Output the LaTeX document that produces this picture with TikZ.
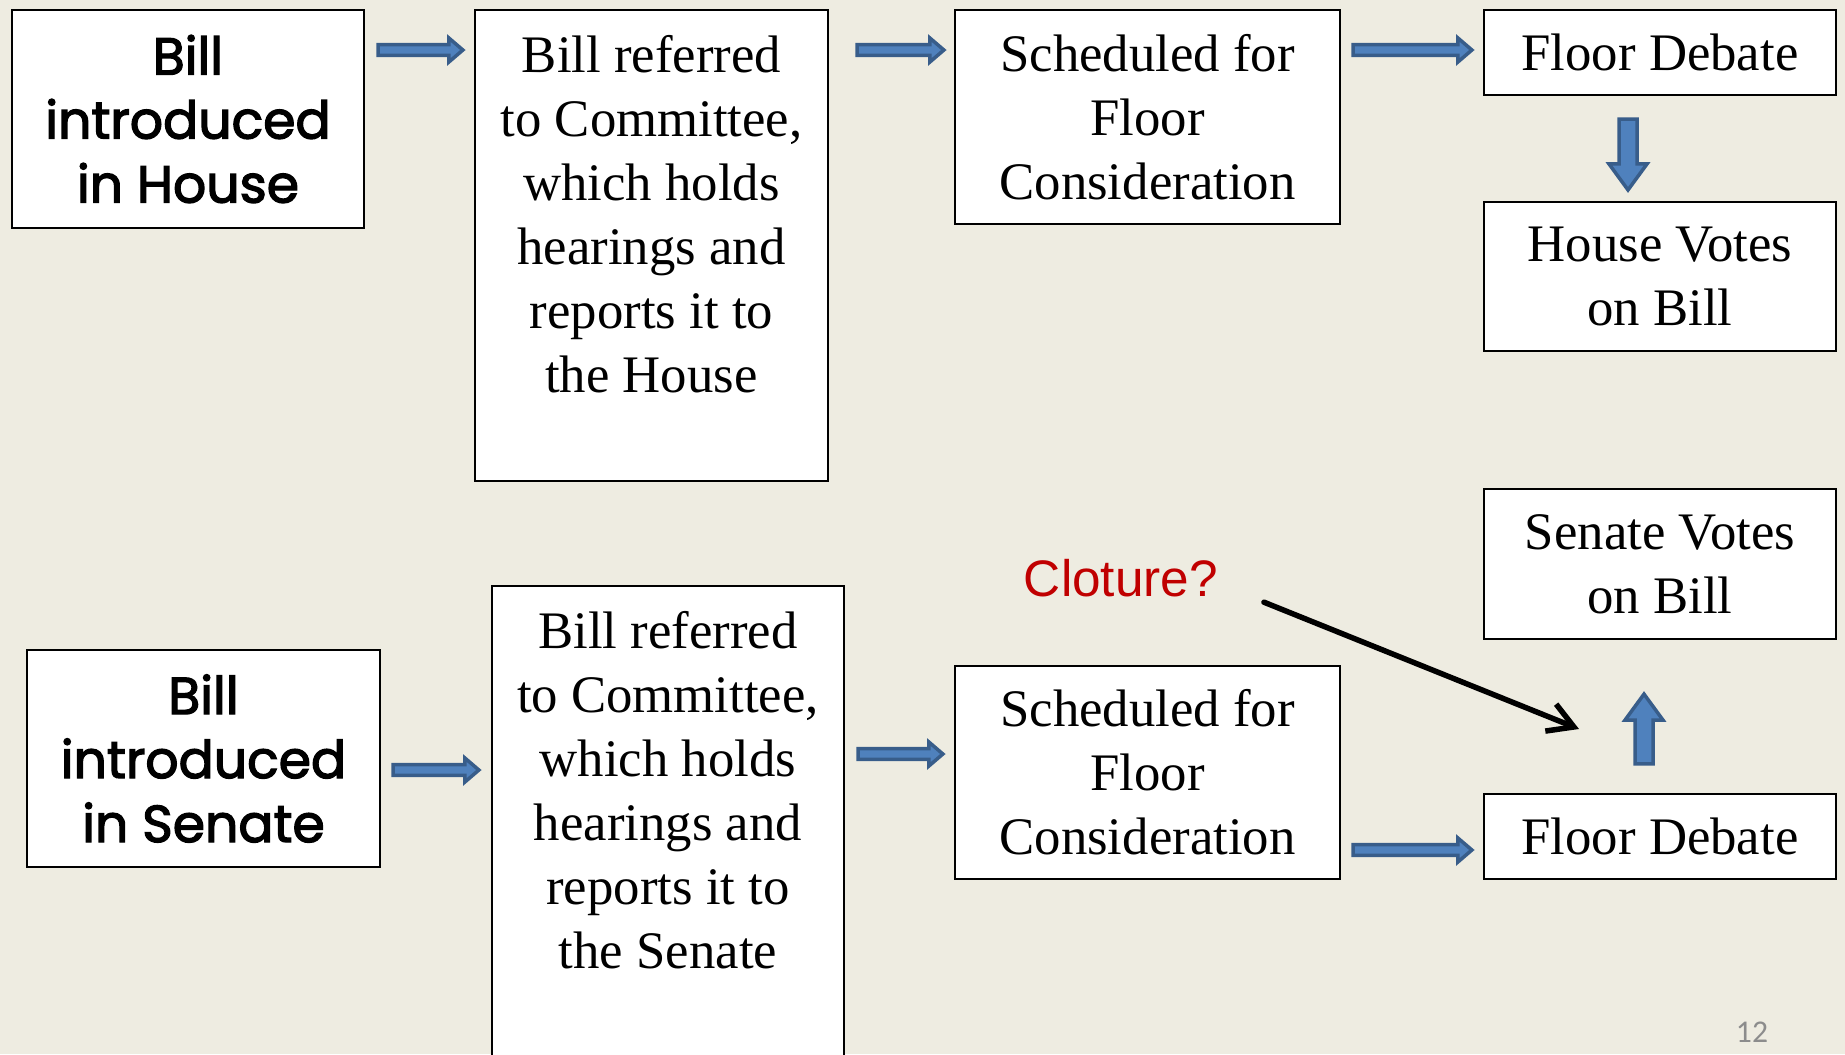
\documentclass[tikz,border=0pt]{standalone}
\usepackage{fontspec}
\setmainfont{Liberation Serif}
\newfontfamily\gothicfont{Poppins}[FakeBold=2.5]
\newfontfamily\arialfont{Liberation Sans}
\newfontfamily\calibrifont{Carlito}
\usetikzlibrary{arrows.meta,calc}
\definecolor{slidebg}{HTML}{EEECE1}
\definecolor{arrowline}{HTML}{385D8A}
\definecolor{arrowfill}{HTML}{4F81BD}
\definecolor{cloturered}{HTML}{C00000}
\definecolor{pagegray}{HTML}{8C8C8C}
\tikzset{
  stepbox/.style={draw=black, line width=0.02cm, fill=white, inner sep=0pt, outer sep=0pt,
    align=center, font=\fontsize{15}{18.2}\selectfont},
  startbox/.style={stepbox, font=\gothicfont\fontsize{14.8}{18.2}\selectfont},
  commbox/.style={stepbox, anchor=north, inner ysep=0.25cm},
  blockarrow/.style={draw=arrowline, fill=arrowfill, line width=0.035cm, line join=miter},
  hflow/.style={blockarrow, to path={let \p1=(\tikztostart), \p2=(\tikztotarget) in
    ({\x1},{\y1+0.053cm}) -- ({\x2-0.14cm},{\y1+0.053cm}) -- ({\x2-0.14cm},{\y1+0.12cm})
    -- ({\x2},{\y1}) -- ({\x2-0.14cm},{\y1-0.12cm}) -- ({\x2-0.14cm},{\y1-0.053cm})
    -- ({\x1},{\y1-0.053cm}) -- cycle}},
  vflow/.style={blockarrow, to path={let \p1=(\tikztostart), \p2=(\tikztotarget),
    \n1={ifthenelse(\y2>\y1,1,-1)} in
    ({\x1-0.09cm},{\y1}) -- ({\x1-0.09cm},{\y2-\n1*0.26cm}) -- ({\x1-0.19cm},{\y2-\n1*0.26cm})
    -- ({\x1},{\y2}) -- ({\x1+0.19cm},{\y2-\n1*0.26cm}) -- ({\x1+0.09cm},{\y2-\n1*0.26cm})
    -- ({\x1+0.09cm},{\y1}) -- cycle}},
  pointer/.style={draw=black, line width=0.055cm, line cap=round,
    -{Straight Barb[length=0.25cm,width=0.29cm]}}
}
\begin{document}
\begin{tikzpicture}[x=0.01cm,y=-0.01cm]
\fill[slidebg] (0,0) rectangle (1845,1054);
\clip (0,0) rectangle (1845,1054);
\coordinate (hrow) at (0,50);
\coordinate (hcol) at (1628,0);
\coordinate (srowa) at (0,770);
\coordinate (srowb) at (0,754);
\coordinate (srowc) at (0,850);
\coordinate (scol) at (1644,0);
\node[startbox, minimum width=3.52cm, minimum height=2.18cm] (hbill) at (188,119) {Bill\\introduced\\in House};
\node[commbox] (hcomm) at (651.5,10) {\parbox[t][4.21cm][t]{3.53cm}{\centering Bill referred\\to Committee,\\which holds\\hearings and\\reports it to\\the House}};
\node[stepbox, minimum width=3.85cm, minimum height=2.14cm] (hsched) at (1147.5,117) {Scheduled for\\Floor\\Consideration};
\node[stepbox, minimum width=3.52cm, minimum height=0.85cm] (hfloor) at (1660,52.5) {Floor Debate};
\node[stepbox, minimum width=3.52cm, minimum height=1.49cm] (hvotes) at (1660,276.5) {House Votes\\on Bill};
\draw[hflow] ([xshift=0.14cm]hbill.east |- hrow) to ([xshift=-0.12cm]hcomm.west |- hrow);
\draw[hflow] ([xshift=0.29cm]hcomm.east |- hrow) to ([xshift=-0.11cm]hsched.west |- hrow);
\draw[hflow] ([xshift=0.13cm]hsched.east |- hrow) to ([xshift=-0.12cm]hfloor.west |- hrow);
\draw[vflow] ([yshift=-0.24cm]hfloor.south -| hcol) to ([yshift=0.12cm]hvotes.north -| hcol);
\node[startbox, minimum width=3.53cm, minimum height=2.17cm] (sbill) at (203.5,758.5) {Bill\\introduced\\in Senate};
\node[commbox] (scomm) at (668,586) {\parbox[t][6cm][t]{3.52cm}{\centering Bill referred\\to Committee,\\which holds\\hearings and\\reports it to\\the Senate}};
\node[stepbox, minimum width=3.85cm, minimum height=2.13cm] (ssched) at (1147.5,772.5) {Scheduled for\\Floor\\Consideration};
\node[stepbox, minimum width=3.52cm, minimum height=0.85cm] (sfloor) at (1660,836.5) {Floor Debate};
\node[stepbox, minimum width=3.52cm, minimum height=1.50cm] (svotes) at (1660,564) {Senate Votes\\on Bill};
\draw[hflow] ([xshift=0.13cm]sbill.east |- srowa) to ([xshift=-0.13cm]scomm.west |- srowa);
\draw[hflow] ([xshift=0.14cm]scomm.east |- srowb) to ([xshift=-0.12cm]ssched.west |- srowb);
\draw[hflow] ([xshift=0.13cm]ssched.east |- srowc) to ([xshift=-0.12cm]sfloor.west |- srowc);
\draw[vflow] ([yshift=0.30cm]sfloor.north -| scol) to ([yshift=-0.55cm]svotes.south -| scol);
\node[text=cloturered, font=\arialfont\fontsize{14.6}{17}\selectfont, inner sep=0.1cm] (cloture) at (1121,578) {Cloture?};
\coordinate (ctip) at (1579,729);
\draw[pointer, shorten <=0.38cm] ([yshift=-0.1cm]cloture.east) -- (ctip);
\node[text=pagegray, font=\calibrifont\fontsize{9}{11}\selectfont] (pagenum) at (1752,1032) {12};
\end{tikzpicture}
\end{document}
